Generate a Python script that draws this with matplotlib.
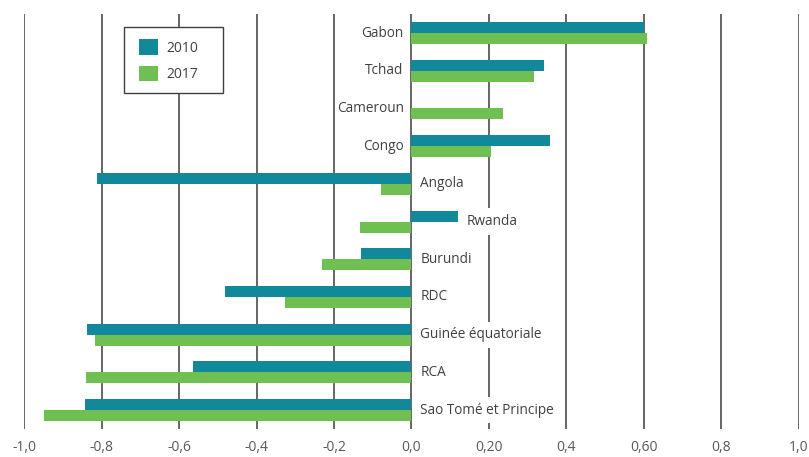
import matplotlib.pyplot as plt
from matplotlib.patches import Patch, Rectangle
import numpy as np

plt.rcParams['font.family'] = ['Open Sans', 'DejaVu Sans']

countries = ["Gabon", "Tchad", "Cameroun", "Congo", "Angola", "Rwanda",
             "Burundi", "RDC", "Guinée équatoriale", "RCA", "Sao Tomé et Principe"]
v2010 = [0.60, 0.343, 0.0, 0.358, -0.812, 0.119, -0.131, -0.482, -0.837, -0.565, -0.843]
v2017 = [0.608, 0.317, 0.235, 0.206, -0.080, -0.134, -0.232, -0.327, -0.817, -0.840, -0.948]
xticks = [-1.0, -0.8, -0.6, -0.4, -0.2, 0.0, 0.2, 0.4, 0.6, 0.8, 1.0]
xtick_labels = ["-1,0", "-0,8", "-0,6", "-0,4", "-0,2", "0,0", "0,20", "0,4", "0,60", "0,8", "1,0"]

teal = "#12899A"
green = "#70BF52"

fig = plt.figure(figsize=(8.09, 4.57), dpi=100)
ax = fig.add_axes([0.0297, 0.0613, 0.9579, 0.9077])

y = np.arange(len(countries))
h = 0.29
ax.barh(y - h / 2, v2010, height=h, color=teal, zorder=3)
ax.barh(y + h / 2, v2017, height=h, color=green, zorder=3)

# country labels next to the zero line, on the side without bars
for i, name in enumerate(countries):
    if min(v2010[i], v2017[i]) < 0:
        x0 = max(0.0, v2010[i], v2017[i]) + 0.023
        ax.text(x0, i, name, ha="left", va="center", fontsize=9.8, color="#404040",
                zorder=4, bbox=dict(facecolor="white", edgecolor="none", pad=4))
    else:
        ax.text(-0.02, i, name, ha="right", va="center", fontsize=9.8, color="#404040",
                zorder=4)

ax.set_xlim(-1.0, 1.0)
ax.set_ylim(len(countries) - 0.5, -0.5)
ax.set_xticks(xticks)
ax.set_xticklabels(xtick_labels, fontsize=10, color="#595959")
ax.set_yticks([])
ax.tick_params(axis="x", length=0, pad=8)
for x in xticks:
    ax.axvline(x, color="#595959", linewidth=1.3, zorder=1)
for s in ax.spines.values():
    s.set_visible(False)

# legend frame drawn separately (Excel-style padding)
ax.add_patch(Rectangle((0.129, 0.8096), 0.1277, 0.159, transform=ax.transAxes,
                       facecolor="white", edgecolor="#404040", linewidth=1.0, zorder=5))
handles = [Patch(facecolor=teal, label="2010"), Patch(facecolor=green, label="2017")]
leg = ax.legend(handles=handles, loc="upper left", bbox_to_anchor=(0.1484, 0.9398),
                fontsize=10, frameon=False, handlelength=1.37, handleheight=1.37,
                labelspacing=0.72, borderpad=0, handletextpad=0.58, borderaxespad=0)
for t in leg.get_texts():
    t.set_color("#404040")
leg.set_zorder(6)

fig.savefig("out.png", dpi=100)
